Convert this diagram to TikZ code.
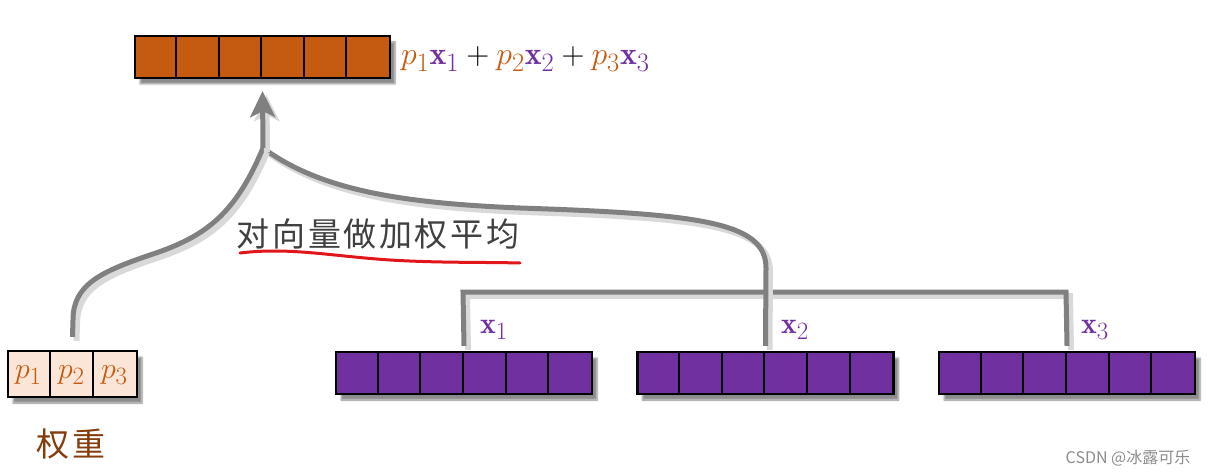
\documentclass[tikz,border=0pt]{standalone}
\usepackage{fontspec}
\usepackage{amsmath}
\usepackage{graphicx}
\usetikzlibrary{arrows.meta,shadows.blur,calc}
\newfontfamily\cjk{Noto Sans CJK SC}
\newfontfamily\cjkl[LetterSpace=8]{Noto Sans CJK SC}
\definecolor{orangebar}{HTML}{C55A11}
\definecolor{purplebar}{HTML}{7030A0}
\definecolor{peach}{HTML}{FBE5D6}
\definecolor{conn}{HTML}{808080}
\definecolor{pcol}{HTML}{C55A11}
\definecolor{brownlbl}{HTML}{843C0C}
\definecolor{darklbl}{HTML}{404040}
\definecolor{redline}{HTML}{E0161B}
\tikzset{
  bar/.style={draw=black, line width=2.2pt, minimum height=42pt, inner sep=0pt,
    blur shadow={shadow xshift=5pt, shadow yshift=-6pt, shadow blur steps=6, shadow opacity=45}},
  obar/.style={bar, fill=orangebar, minimum width=255pt},
  pbar/.style={bar, fill=purplebar, minimum width=256pt},
  wbar/.style={bar, fill=peach, minimum width=129pt, minimum height=46pt},
  divider/.style={draw=black, line width=2pt},
  connector/.style={draw=conn, line width=5pt,
    preaction={draw=black!15, line width=6pt, transform canvas={xshift=4pt, yshift=-4pt}}},
  vlabel/.style={text=purplebar, font=\fontsize{24.88}{28}\selectfont, inner sep=0pt}
}
\newcommand{\pp}[1]{\textcolor{pcol}{p_{#1}}}
\newcommand{\xx}[1]{\textcolor{purplebar}{\mathbf{x}_{#1}}}
\begin{document}
\begin{tikzpicture}[x=1pt,y=-1pt]
\useasboundingbox (0,0) rectangle (1212,476);
\coordinate (j) at (263,148);
\coordinate (hl) at (463,292);
\coordinate (hr) at (1066,292);
\coordinate (c2) at (766,268);
% bars
\node[obar] (top) at (262.5,57) {};
\node[wbar] (w) at (72.5,374) {};
\node[pbar] (v1) at (464,373) {};
\node[pbar] (v2) at (765.5,373) {};
\node[pbar] (v3) at (1067,373) {};
\foreach \i in {1,...,5} \draw[divider] ($(top.north west)+(\i*42.5,0)$) -- ($(top.south west)+(\i*42.5,0)$);
\foreach \n in {v1,v2,v3} \foreach \i in {1,...,5} \draw[divider] ($(\n.north west)+(\i*42.67,0)$) -- ($(\n.south west)+(\i*42.67,0)$);
\foreach \i in {1,2} \draw[divider] ($(w.north west)+(\i*43,0)$) -- ($(w.south west)+(\i*43,0)$);
% weight labels
\foreach \i in {1,2,3}
  \node[inner sep=0pt, font=\fontsize{24.88}{28}\selectfont] (p\i) at ($(w.west)+(\i*43-21.5,1)$) {\scalebox{1.2}{$\pp{\i}$}};
% connectors
\draw[connector] ($(v1.north)+(0,-5)$) -- (hl) -- (hr) -- ($(v3.north)+(0,-5)$);
\draw[connector] ($(v2.north)+(0,-5)$) -- (c2) .. controls (766,222) and (700,214) .. (520,208)
  .. controls (400,203) and (320,190) .. (j);
\draw[connector] ($(w.north)+(0,-13)$) -- (73,320) .. controls (73,285) and (100,272) .. (150,255)
  .. controls (205,237) and (235,215) .. (j);
\draw[connector, -{Stealth[length=26pt, width=25pt, inset=6pt]}] (j) -- ($(top.south)+(0,12)$);
% formula
\node[anchor=west, inner sep=0pt, font=\fontsize{24.88}{28}\selectfont] (f) at (401,59)
  {\scalebox{1.28}{$\pp1\xx1+\pp2\xx2+\pp3\xx3$}};
% vector labels
\node[vlabel] (l1) at (494,330) {\scalebox{1.2}{$\mathbf{x}_1$}};
\node[vlabel] (l2) at (795,330) {\scalebox{1.2}{$\mathbf{x}_2$}};
\node[vlabel] (l3) at (1095,330) {\scalebox{1.2}{$\mathbf{x}_3$}};
% text labels
\node[inner sep=0pt, text=darklbl, font=\cjkl\fontsize{33}{36}\selectfont] (avg) at (378,234) {对向量做加权平均};
\draw[redline, line width=3pt, line cap=round] (240,253) .. controls (290,247) and (330,256) .. (390,260)
  .. controls (440,263) and (480,262) .. (520,263);
\node[inner sep=0pt, text=brownlbl, font=\cjkl\fontsize{33}{36}\selectfont] (wt) at (71,444) {权重};
\node[inner sep=0pt, text=black!45, font=\cjk\fontsize{16}{18}\selectfont] (csdn) at (1128,458) {CSDN @冰露可乐};
\end{tikzpicture}
\end{document}
